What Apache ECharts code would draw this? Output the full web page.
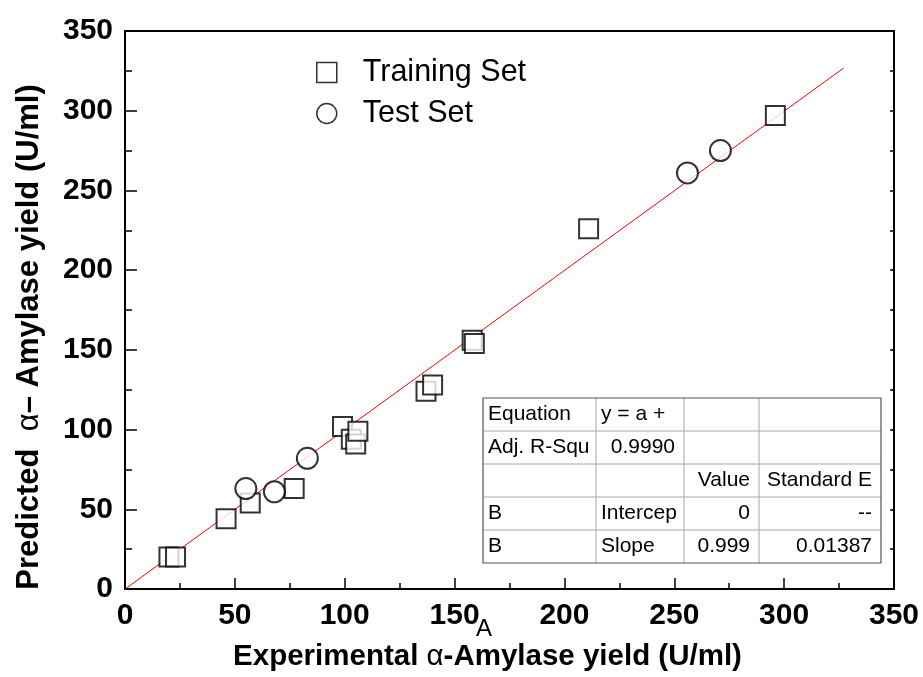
<!DOCTYPE html>
<html>
<head>
<meta charset="utf-8">
<script src="https://cdn.jsdelivr.net/npm/echarts@6/dist/echarts.min.js"></script>
<style>
  html, body { margin: 0; padding: 0; background: #fff; }
  #chart { width: 923px; height: 677px; }
</style>
</head>
<body>
<div id="chart"></div>
<script>
// Experimental vs. predicted alpha-amylase yield (U/ml)
const trainX = [20, 23, 46, 57, 77, 99, 103, 105, 106, 137, 140, 158, 159, 211, 296];
const trainY = [20, 20, 44, 54, 63, 102, 94, 91, 99, 124, 128, 156, 154, 226, 297];
const testX = [55, 68, 83, 256, 271];
const testY = [63, 61, 82, 261, 275];

// Linear fit y = a + b*x (intercept fixed at 0, slope 0.999)
const fitX = [0, 327];
const fitY = [0, 326.7];

const axisTicks = [0, 50, 100, 150, 200, 250, 300, 350];

// Fit statistics table (rows x columns)
const tableRows = [
  ['Equation', 'y = a +', '', ''],
  ['Adj. R-Squ', '0.9990', '', ''],
  ['', '', 'Value', 'Standard E'],
  ['B', 'Intercep', '0', '--'],
  ['B', 'Slope', '0.999', '0.01387']
];
const tableAlign = [
  ['left', 'left', 'right', 'right'],
  ['left', 'right', 'right', 'right'],
  ['left', 'left', 'right', 'right'],
  ['left', 'left', 'right', 'right'],
  ['left', 'left', 'right', 'right']
];

const FONT = "'Liberation Sans', Arial, sans-serif";
const chart = echarts.init(document.getElementById('chart'));

function zip(xs, ys) { return xs.map((x, i) => [x, ys[i]]); }

// Table geometry
const colEdges = [483, 596, 684, 759, 881];
const rowEdges = [398, 431, 464, 497, 530, 563];
const tableEls = [];
tableEls.push({
  type: 'rect', shape: { x: colEdges[0], y: rowEdges[0], width: colEdges[4] - colEdges[0], height: rowEdges[5] - rowEdges[0] },
  style: { fill: '#fff', stroke: 'none' }, z: 10
});
for (let r = 1; r < rowEdges.length - 1; r++) {
  tableEls.push({ type: 'line', shape: { x1: colEdges[0], y1: rowEdges[r], x2: colEdges[4], y2: rowEdges[r] }, style: { stroke: '#a8a8a8', lineWidth: 1 }, z: 11 });
}
for (let c = 1; c < colEdges.length - 1; c++) {
  tableEls.push({ type: 'line', shape: { x1: colEdges[c], y1: rowEdges[0], x2: colEdges[c], y2: rowEdges[5] }, style: { stroke: '#a8a8a8', lineWidth: 1 }, z: 11 });
}
tableEls.push({
  type: 'rect', shape: { x: colEdges[0], y: rowEdges[0], width: colEdges[4] - colEdges[0], height: rowEdges[5] - rowEdges[0] },
  style: { fill: 'none', stroke: '#555', lineWidth: 1.2 }, z: 12
});
tableRows.forEach((row, r) => {
  row.forEach((txt, c) => {
    if (!txt) return;
    const al = tableAlign[r][c];
    tableEls.push({
      type: 'text', z: 13,
      x: al === 'left' ? colEdges[c] + 5 : colEdges[c + 1] - 9,
      y: (rowEdges[r] + rowEdges[r + 1]) / 2,
      style: { text: txt, fill: '#000', font: '21px ' + FONT, textAlign: al, textVerticalAlign: 'middle' }
    });
  });
});

const option = {
  animation: false,
  backgroundColor: '#fff',
  grid: { left: 125, right: 29, top: 31, bottom: 86 },
  legend: {
    orient: 'vertical', left: 311, top: 52,
    itemWidth: 20, itemHeight: 20, itemGap: 10,
    data: ['Training Set', 'Test Set'],
    itemStyle: { color: '#fff', borderColor: '#000', borderWidth: 1.5 },
    textStyle: { fontFamily: FONT, fontSize: 30.5, color: '#000', padding: [0, 0, 0, 21] }
  },
  xAxis: [{
    type: 'value', min: 0, max: 350, interval: 50,
    axisLine: { onZero: false, lineStyle: { color: '#000', width: 2 } },
    axisTick: { inside: true, length: 11, lineStyle: { color: '#000', width: 1.5 } },
    minorTick: { show: true, splitNumber: 2, length: 6, lineStyle: { color: '#000', width: 1.5 } },
    splitLine: { show: false },
    axisLabel: { margin: 12, color: '#000', fontFamily: FONT, fontWeight: 'bold', fontSize: 30,
      formatter: v => axisTicks.includes(v) ? String(v) : '' },
    name: 'Experimental {a|α}-Amylase yield (U/ml)',
    nameLocation: 'middle', nameGap: 53,
    nameTextStyle: { color: '#000', fontFamily: FONT, fontWeight: 'bold', fontSize: 29.5,
      padding: [0, 44, 0, 0],
      rich: { a: { fontFamily: FONT, fontWeight: 'normal', fontSize: 29.5, color: '#000' } } }
  }, {
    type: 'value', position: 'top', min: 0, max: 350, interval: 50,
    axisLine: { onZero: false, lineStyle: { color: '#000', width: 2 } },
    axisTick: { show: false }, axisLabel: { show: false }, splitLine: { show: false }
  }],
  yAxis: [{
    type: 'value', min: 0, max: 350, interval: 50,
    axisLine: { onZero: false, lineStyle: { color: '#000', width: 2 } },
    axisTick: { inside: true, length: 12, lineStyle: { color: '#000', width: 1.5 } },
    minorTick: { show: true, splitNumber: 2, length: 7, lineStyle: { color: '#000', width: 1.5 } },
    splitLine: { show: false },
    axisLabel: { margin: 12, color: '#000', fontFamily: FONT, fontWeight: 'bold', fontSize: 30 },
    name: 'Predicted  {a|α}– Amylase yield (U/ml)',
    nameLocation: 'middle', nameGap: 80,
    nameTextStyle: { color: '#000', fontFamily: FONT, fontWeight: 'bold', fontSize: 31,
      padding: [0, 54, 0, 0],
      rich: { a: { fontFamily: FONT, fontWeight: 'normal', fontSize: 31, color: '#000' } } }
  }, {
    type: 'value', position: 'right', min: 0, max: 350, interval: 50,
    axisLine: { onZero: false, lineStyle: { color: '#000', width: 2 } },
    axisTick: { inside: true, length: 4, lineStyle: { color: '#000', width: 1.5 } },
    minorTick: { show: true, splitNumber: 2, length: 4, lineStyle: { color: '#000', width: 1.5 } },
    axisLabel: { show: false }, splitLine: { show: false }
  }],
  series: [{
    name: 'Fit', type: 'line', xAxisIndex: 0, yAxisIndex: 0,
    data: zip(fitX, fitY), showSymbol: false, silent: true,
    lineStyle: { color: '#ff0000', width: 1 }, z: 2
  }, {
    name: 'Training Set', type: 'scatter', xAxisIndex: 0, yAxisIndex: 0,
    data: zip(trainX, trainY), symbol: 'rect', symbolSize: 19,
    itemStyle: { color: '#fff', borderColor: '#000', borderWidth: 2 }, z: 3
  }, {
    name: 'Test Set', type: 'scatter', xAxisIndex: 0, yAxisIndex: 0,
    data: zip(testX, testY), symbol: 'circle', symbolSize: 21,
    itemStyle: { color: '#fff', borderColor: '#000', borderWidth: 2 }, z: 3
  }],
  graphic: [
    { type: 'group', children: tableEls },
    { type: 'text', left: 476, top: 617, z: 5,
      style: { text: 'A', fill: '#000', font: "24px 'Liberation Sans Narrow', 'Liberation Sans', sans-serif" } }
  ]
};
chart.setOption(option);
</script>
</body>
</html>
